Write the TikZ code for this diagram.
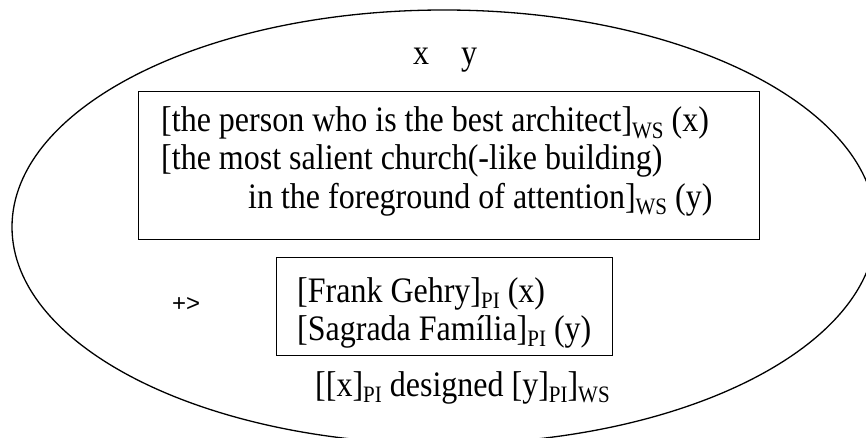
\documentclass[tikz,border=0pt]{standalone}
\usepackage{fontspec}
\usepackage{graphicx}
\setmainfont{Liberation Serif}
\newfontfamily\arialfont{Liberation Sans}
\newcommand{\sbs}[1]{\raisebox{-0.17em}{\fontsize{21}{21}\selectfont #1}}
\newcommand{\tall}[1]{\scalebox{1}[1.12]{#1}}
\tikzset{
  txt/.style={inner sep=0pt, anchor=base west, font=\fontsize{32}{38}\selectfont},
  frame/.style={draw, line width=1.3pt, anchor=north west, inner sep=0pt},
}
\begin{document}
\begin{tikzpicture}[x=1pt,y=-1pt]
\useasboundingbox (0,0) rectangle (866,438);
\begin{scope}
\clip (0,0) rectangle (866,438);
\draw[line width=1.3pt] (444,227) ellipse [x radius=432, y radius=217];
\end{scope}
\node[txt] (xy) at (413,65) {\tall{x\hspace{32pt}y}};
\node[frame, minimum width=621, minimum height=148] (box1) at (138,91) {};
\node[txt] (l1) at (161,132) {\tall{[the person who is the best architect]\sbs{WS} (x)}};
\node[txt] (l2) at (161,170) {\tall{[the most salient church(-like building)}};
\node[txt] (l3) at (248,208) {\tall{in the foreground of attention]\sbs{WS} (y)}};
\node[frame, minimum width=336, minimum height=98] (box2) at (276,257) {};
\node[txt] (f1) at (297,302) {\tall{[Frank Gehry]\sbs{PI} (x)}};
\node[txt] (f2) at (297,340) {\tall{[Sagrada Família]\sbs{PI} (y)}};
\node[inner sep=0pt, anchor=base west, font=\arialfont\fontsize{24}{24}\selectfont] (arrow) at (172,311) {+>};
\node[txt] (bot) at (315,396) {\tall{[[x]\sbs{PI} designed [y]\sbs{PI}]\sbs{WS}}};
\end{tikzpicture}
\end{document}
